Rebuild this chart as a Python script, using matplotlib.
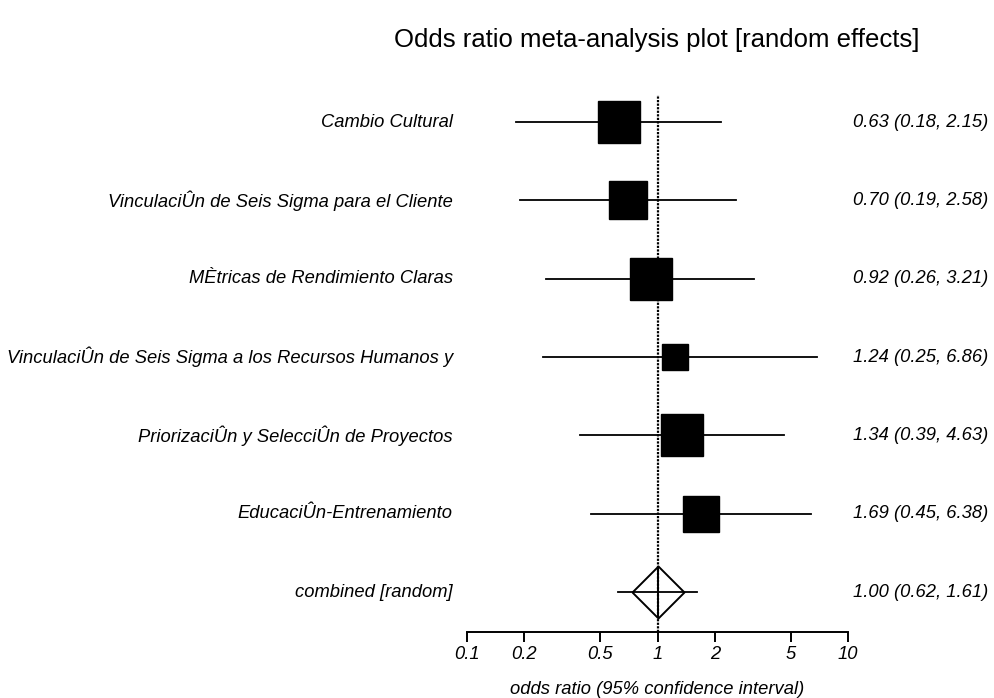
import numpy as np
import matplotlib
matplotlib.use("Agg")
import matplotlib.pyplot as plt

plt.rcParams['font.family'] = ['Liberation Sans', 'DejaVu Sans']

labels = ["Cambio Cultural",
          "VinculaciÛn de Seis Sigma para el Cliente",
          "MÈtricas de Rendimiento Claras",
          "VinculaciÛn de Seis Sigma a los Recursos Humanos y",
          "PriorizaciÛn y SelecciÛn de Proyectos",
          "EducaciÛn-Entrenamiento"]
odds = [0.63, 0.70, 0.92, 1.24, 1.34, 1.69]
lower = [0.18, 0.19, 0.26, 0.25, 0.39, 0.45]
upper = [2.15, 2.58, 3.21, 6.86, 4.63, 6.38]
weights = [20.1, 16.5, 20.1, 8.3, 20.1, 14.8]

pooled_label = "combined [random]"
pooled = 1.00
pooled_lo = 0.62
pooled_hi = 1.61

ticks = [0.1, 0.2, 0.5, 1, 2, 5, 10]
tick_labels = ["0.1", "0.2", "0.5", "1", "2", "5", "10"]

W, H = 995, 698
fig = plt.figure(figsize=(W / 100, H / 100), dpi=100)
ax = fig.add_axes([467 / W, 1 - 632 / H, (848 - 467) / W, (632 - 95) / H])
ax.set_xscale("log")
ax.set_xlim(0.1, 10)
ax.set_ylim(6.51, -0.345)

ax.axvline(1, color="black", lw=1.6, ls=(0, (1.0, 0.6)), zorder=1)

fs = 13.2
px2pt = 72 / 100
for i in range(len(odds)):
    ax.plot([lower[i], upper[i]], [i, i], color="black", lw=1.3, zorder=2)
    side = 42 * np.sqrt(weights[i] / max(weights)) * px2pt
    ax.plot(odds[i], i, marker="s", ms=side, color="black", zorder=3)
    ax.text(-0.037, i, labels[i], transform=ax.get_yaxis_transform(),
            ha="right", va="center", style="italic", fontsize=fs)
    ax.text(1.368, i, "%.2f (%.2f, %.2f)" % (odds[i], lower[i], upper[i]),
            transform=ax.get_yaxis_transform(), ha="right", va="center",
            style="italic", fontsize=fs)

j = len(odds)
ax.plot([pooled_lo, pooled_hi], [j, j], color="black", lw=1.3, zorder=2)
diamond = [(-1, 0), (0, 1), (1, 0), (0, -1), (-1, 0)]
ax.plot(pooled, j, marker=diamond, ms=52 * px2pt, mfc="none", mec="black",
        mew=1.4, zorder=3)
ax.plot(pooled, j, marker="|", ms=52 * px2pt, mec="black", mew=1.4, zorder=3)
ax.text(-0.037, j, pooled_label, transform=ax.get_yaxis_transform(),
        ha="right", va="center", style="italic", fontsize=fs)
ax.text(1.368, j, "%.2f (%.2f, %.2f)" % (pooled, pooled_lo, pooled_hi),
        transform=ax.get_yaxis_transform(), ha="right", va="center",
        style="italic", fontsize=fs)

for s in ["top", "left", "right"]:
    ax.spines[s].set_visible(False)
ax.spines["bottom"].set_linewidth(1.4)
ax.set_yticks([])
ax.set_xticks(ticks)
ax.set_xticklabels(tick_labels, style="italic", fontsize=fs)
ax.xaxis.set_minor_locator(matplotlib.ticker.NullLocator())
ax.tick_params(axis="x", direction="out", length=7, width=1.4, pad=3)
ax.set_xlabel("odds ratio (95% confidence interval)", style="italic",
              fontsize=fs, labelpad=13)

fig.text(657 / W, 1 - 40 / H, "Odds ratio meta-analysis plot [random effects]",
         ha="center", va="center", fontsize=18.5)

fig.savefig("out.png", dpi=100)
